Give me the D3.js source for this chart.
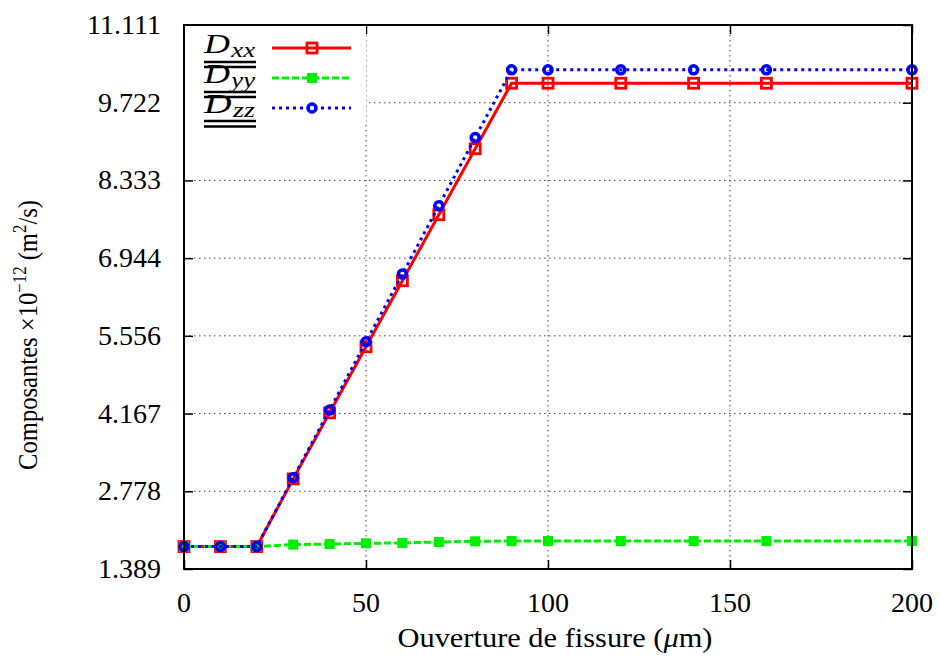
<!DOCTYPE html>
<html>
<head>
<meta charset="utf-8">
<script src="https://cdn.jsdelivr.net/npm/d3@7"></script>
<style>
    body { margin: 0; background: #fff; }
    svg text { font-family: "Liberation Serif", "DejaVu Serif", serif; fill: #000; }
</style>
</head>
<body>
<svg id="chart" width="940" height="657"></svg>
<script>
// x values (crack opening, µm)
const openings = [0, 10, 20, 30, 40, 50, 60, 70, 80, 90, 100, 120, 140, 160, 200];

// components x 1e-12 m2/s
const dxx = [1.79, 1.79, 1.79, 3.00, 4.18, 5.36, 6.54, 7.72, 8.90, 10.07, 10.07, 10.07, 10.07, 10.07, 10.07];
const dyy = [1.79, 1.79, 1.79, 1.825, 1.835, 1.848, 1.855, 1.872, 1.884, 1.889, 1.889, 1.889, 1.889, 1.889, 1.889];
const dzz = [1.79, 1.79, 1.79, 3.02, 4.23, 5.45, 6.66, 7.88, 9.10, 10.31, 10.31, 10.31, 10.31, 10.31, 10.31];

const xTicks = [0, 50, 100, 150, 200];
const yTicks = [1.389, 2.778, 4.167, 5.556, 6.944, 8.333, 9.722, 11.111];
const yTickLabels = ['1.389', '2.778', '4.167', '5.556', '6.944', '8.333', '9.722', '11.111'];

const svg = d3.select('#chart');
const plotLeft = 184, plotRight = 912, plotTop = 25, plotBottom = 569;

const x = d3.scaleLinear().domain([0, 200]).range([plotLeft, plotRight]);
const y = d3.scaleLinear().domain([1.389, 11.111]).range([plotBottom, plotTop]);

// grid lines (dotted)
svg.append('g')
    .selectAll('line')
    .data(yTicks.slice(1, -1))
    .enter()
    .append('line')
    .attr('x1', plotLeft).attr('x2', plotRight)
    .attr('y1', d => y(d)).attr('y2', d => y(d))
    .style('stroke', '#444')
    .style('stroke-width', 1)
    .style('stroke-dasharray', '1.5,3.5');

svg.append('g')
    .selectAll('line')
    .data(xTicks.slice(1, -1))
    .enter()
    .append('line')
    .attr('x1', d => x(d)).attr('x2', d => x(d))
    .attr('y1', plotTop).attr('y2', plotBottom)
    .style('stroke', '#444')
    .style('stroke-width', 1)
    .style('stroke-dasharray', '1.5,3.5');

// axes with inward ticks on all four sides
const tickLen = 9;
svg.append('g').attr('transform', `translate(0,${plotBottom})`)
    .call(d3.axisBottom(x).tickValues(xTicks).tickSize(-tickLen).tickFormat(''));
svg.append('g').attr('transform', `translate(0,${plotTop})`)
    .call(d3.axisTop(x).tickValues(xTicks).tickSize(-tickLen).tickFormat(''));
svg.append('g').attr('transform', `translate(${plotLeft},0)`)
    .call(d3.axisLeft(y).tickValues(yTicks).tickSize(-tickLen).tickFormat(''));
svg.append('g').attr('transform', `translate(${plotRight},0)`)
    .call(d3.axisRight(y).tickValues(yTicks).tickSize(-tickLen).tickFormat(''));
svg.selectAll('.domain').remove();
svg.selectAll('.tick line').style('stroke', '#000').style('stroke-width', 1.5);

// tick labels
svg.append('g')
    .selectAll('text')
    .data(yTicks)
    .enter()
    .append('text')
    .attr('x', 161)
    .attr('y', d => y(d) + 9)
    .attr('text-anchor', 'end')
    .style('font-size', '28px')
    .text((d, i) => yTickLabels[i]);

svg.append('g')
    .selectAll('text')
    .data(xTicks)
    .enter()
    .append('text')
    .attr('x', d => x(d))
    .attr('y', 612)
    .attr('text-anchor', 'middle')
    .style('font-size', '28px')
    .text(d => d);

// axis titles
const xt = svg.append('text')
    .attr('x', 555)
    .attr('y', 647)
    .attr('text-anchor', 'middle')
    .attr('textLength', 315)
    .attr('lengthAdjust', 'spacingAndGlyphs')
    .style('font-size', '28px');
xt.append('tspan').text('Ouverture de fissure (');
xt.append('tspan').style('font-style', 'italic').text('μ');
xt.append('tspan').text('m)');

const yt = svg.append('text')
    .attr('transform', 'translate(37,335) rotate(-90)')
    .attr('text-anchor', 'middle')
    .attr('textLength', 270)
    .attr('lengthAdjust', 'spacingAndGlyphs')
    .style('font-size', '28px');
yt.append('tspan').text('Composantes ×10');
yt.append('tspan').attr('dy', -11).style('font-size', '19px').text('−12');
yt.append('tspan').attr('dy', 11).text(' (m');
yt.append('tspan').attr('dy', -11).style('font-size', '19px').text('2');
yt.append('tspan').attr('dy', 11).text('/s)');

// series
const series = [
    {name: 'xx', values: dxx, color: '#ff0000', dash: null, marker: 'open-square'},
    {name: 'yy', values: dyy, color: '#00ee00', dash: '7,3', marker: 'filled-square'},
    {name: 'zz', values: dzz, color: '#0000ff', dash: '3,4', marker: 'circle'}
];

const line = d3.line()
    .x(d => x(d[0]))
    .y(d => y(d[1]));

function drawMarker(g, type, color, cx, cy) {
    if (type === 'open-square') {
        g.append('rect')
            .attr('x', cx - 5).attr('y', cy - 5)
            .attr('width', 10).attr('height', 10)
            .style('fill', 'none').style('stroke', color).style('stroke-width', 2.8);
    } else if (type === 'filled-square') {
        g.append('rect')
            .attr('x', cx - 5).attr('y', cy - 5)
            .attr('width', 10).attr('height', 10)
            .style('fill', color);
    } else {
        g.append('circle')
            .attr('cx', cx).attr('cy', cy).attr('r', 4)
            .style('fill', 'none').style('stroke', color).style('stroke-width', 3.6);
    }
}

series.forEach(s => {
    const pts = openings.map((o, i) => [o, s.values[i]]);
    const g = svg.append('g');
    g.append('path')
        .datum(pts)
        .attr('d', line)
        .style('fill', 'none')
        .style('stroke', s.color)
        .style('stroke-width', 3)
        .style('stroke-dasharray', s.dash);
    pts.forEach(p => drawMarker(g, s.marker, s.color, x(p[0]), y(p[1])));
});

// legend (white box over the grid)
svg.append('rect')
    .attr('x', plotLeft + 1).attr('y', plotTop + 1)
    .attr('width', 181).attr('height', 96)
    .style('fill', '#fff');

const legendY = [48, 78, 108];
series.forEach((s, i) => {
    const ly = legendY[i];
    const lg = svg.append('g');
    lg.append('line')
        .attr('x1', 272).attr('x2', 351)
        .attr('y1', ly).attr('y2', ly)
        .style('stroke', s.color)
        .style('stroke-width', 3)
        .style('stroke-dasharray', s.dash);
    drawMarker(lg, s.marker, s.color, 312, ly);

    const t = lg.append('text')
        .attr('x', 204)
        .attr('y', ly + 5)
        .attr('textLength', 51)
        .attr('lengthAdjust', 'spacingAndGlyphs')
        .style('font-size', '27px')
        .style('font-style', 'italic');
    t.append('tspan').text('D');
    t.append('tspan').attr('dy', 4).attr('dx', 1).style('font-size', '20px').text(s.name);
});

// bars above/below the legend labels
const barYs = [62, 67, 92, 97, 121, 126.5];
svg.append('g')
    .selectAll('line')
    .data(barYs)
    .enter()
    .append('line')
    .attr('x1', 204).attr('x2', 256)
    .attr('y1', d => d).attr('y2', d => d)
    .style('stroke', '#000')
    .style('stroke-width', 2.6);

// frame
svg.append('rect')
    .attr('x', plotLeft).attr('y', plotTop)
    .attr('width', plotRight - plotLeft).attr('height', plotBottom - plotTop)
    .style('fill', 'none')
    .style('stroke', '#000')
    .style('stroke-width', 2);
</script>
</body>
</html>
